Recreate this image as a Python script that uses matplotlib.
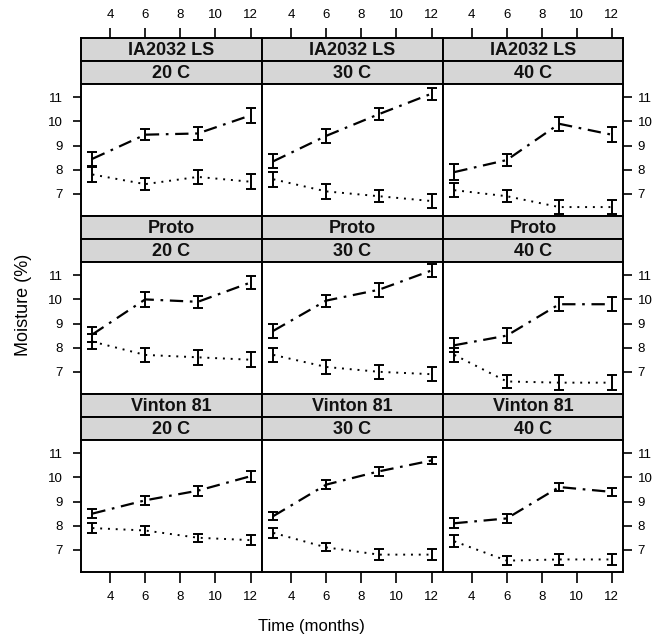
import numpy as np
import matplotlib
matplotlib.use('Agg')
import matplotlib.pyplot as plt

plt.rcParams['font.family'] = ['Liberation Sans', 'DejaVu Sans']

# data
months = [3, 6, 9, 12]
varieties = ['IA2032 LS', 'Proto', 'Vinton 81']
temps = ['20 C', '30 C', '40 C']

# upper series (dash-dot) mean and half error bar, per variety then temperature
upper_mean = {
    'IA2032 LS': [[8.45, 9.45, 9.5, 10.25], [8.35, 9.4, 10.3, 11.15], [7.9, 8.4, 9.9, 9.45]],
    'Proto': [[8.55, 10.0, 9.9, 10.7], [8.7, 9.95, 10.4, 11.2], [8.1, 8.5, 9.8, 9.8]],
    'Vinton 81': [[8.5, 9.05, 9.45, 10.05], [8.4, 9.7, 10.25, 10.7], [8.1, 8.3, 9.6, 9.4]],
}
upper_err = {
    'IA2032 LS': [[0.3, 0.22, 0.25, 0.3], [0.3, 0.3, 0.25, 0.25], [0.33, 0.25, 0.3, 0.3]],
    'Proto': [[0.3, 0.3, 0.25, 0.25], [0.3, 0.25, 0.3, 0.28], [0.3, 0.3, 0.3, 0.3]],
    'Vinton 81': [[0.2, 0.2, 0.2, 0.23], [0.18, 0.2, 0.2, 0.15], [0.2, 0.2, 0.17, 0.17]],
}
# lower series (dotted)
lower_mean = {
    'IA2032 LS': [[7.8, 7.4, 7.7, 7.5], [7.6, 7.1, 6.9, 6.7], [7.15, 6.9, 6.45, 6.45]],
    'Proto': [[8.25, 7.7, 7.6, 7.5], [7.7, 7.2, 7.0, 6.9], [7.7, 6.6, 6.55, 6.55]],
    'Vinton 81': [[7.9, 7.8, 7.5, 7.4], [7.7, 7.1, 6.8, 6.8], [7.35, 6.55, 6.6, 6.6]],
}
lower_err = {
    'IA2032 LS': [[0.3, 0.25, 0.3, 0.3], [0.3, 0.3, 0.25, 0.28], [0.3, 0.25, 0.3, 0.3]],
    'Proto': [[0.3, 0.3, 0.3, 0.3], [0.3, 0.28, 0.28, 0.3], [0.3, 0.27, 0.3, 0.3]],
    'Vinton 81': [[0.2, 0.17, 0.17, 0.22], [0.22, 0.17, 0.22, 0.22], [0.25, 0.2, 0.22, 0.22]],
}

W, H = 655, 639
fig = plt.figure(figsize=(W / 100, H / 100), dpi=100)

col_x = [81, 262, 443, 623]
row_top = [38, 216, 394]
strip_h = 23
panel_h = 132
xlim = (2.35, 12.65)
ylim = (6.08, 11.55)
xt = [4, 6, 8, 10, 12]
yt = [7, 8, 9, 10, 11]
strip_col = '#d6d6d6'


def px_axes(x0, y0, x1, y1):
    return fig.add_axes([x0 / W, 1 - y1 / H, (x1 - x0) / W, (y1 - y0) / H])


for r, var in enumerate(varieties):
    for c, temp in enumerate(temps):
        x0, x1 = col_x[c], col_x[c + 1]
        t = row_top[r]
        # strips
        for k, lab in enumerate([var, temp]):
            sa = px_axes(x0, t + k * strip_h, x1, t + (k + 1) * strip_h)
            sa.set_facecolor(strip_col)
            sa.set_xlim(xlim)
            sa.set_ylim(0, 1)
            sa.set_yticks([])
            sa.text(0.5, 0.45, lab, transform=sa.transAxes, ha='center', va='center',
                    fontsize=13, fontweight='bold', color='#111111')
            for sp in sa.spines.values():
                sp.set_linewidth(1.4)
            if r == 0 and k == 0:
                sa.xaxis.tick_top()
                sa.set_xticks(xt)
                sa.tick_params(axis='x', length=7, width=1.2, pad=5, labelsize=9.5)
            else:
                sa.set_xticks([])

        ax = px_axes(x0, t + 2 * strip_h, x1, t + 2 * strip_h + panel_h)
        ax.set_xlim(xlim)
        ax.set_ylim(ylim)
        ax.errorbar(months, upper_mean[var][c], yerr=upper_err[var][c], color='black',
                    lw=1.6, linestyle=(0, (6, 3, 1.2, 3)), capsize=3.4, elinewidth=1.4,
                    capthick=1.4)
        ax.errorbar(months, lower_mean[var][c], yerr=lower_err[var][c], color='black',
                    lw=1.4, linestyle=(0, (1, 3)), capsize=3.4, elinewidth=1.4,
                    capthick=1.4)
        for sp in ax.spines.values():
            sp.set_linewidth(1.4)

        ax.set_yticks(yt)
        if c == 0:
            ax.tick_params(axis='y', left=True, right=False, labelleft=True,
                           length=6, width=1.2, pad=7, labelsize=9.5)
        elif c == 2:
            ax.tick_params(axis='y', left=False, right=True, labelleft=False,
                           labelright=True, length=6.5, width=1.2, pad=4, labelsize=9.5)
        else:
            ax.tick_params(axis='y', left=False, labelleft=False)

        if r == 2:
            ax.set_xticks(xt)
            ax.tick_params(axis='x', length=8, width=1.2, pad=6, labelsize=9.5)
        else:
            ax.set_xticks([])

fig.text(311 / W, 1 - 627 / H, 'Time (months)', ha='center', va='center', fontsize=12)
fig.text(24 / W, 1 - 305 / H, 'Moisture (%)', ha='center', va='center', fontsize=13,
         rotation=90)

fig.savefig('out.png', dpi=100)
